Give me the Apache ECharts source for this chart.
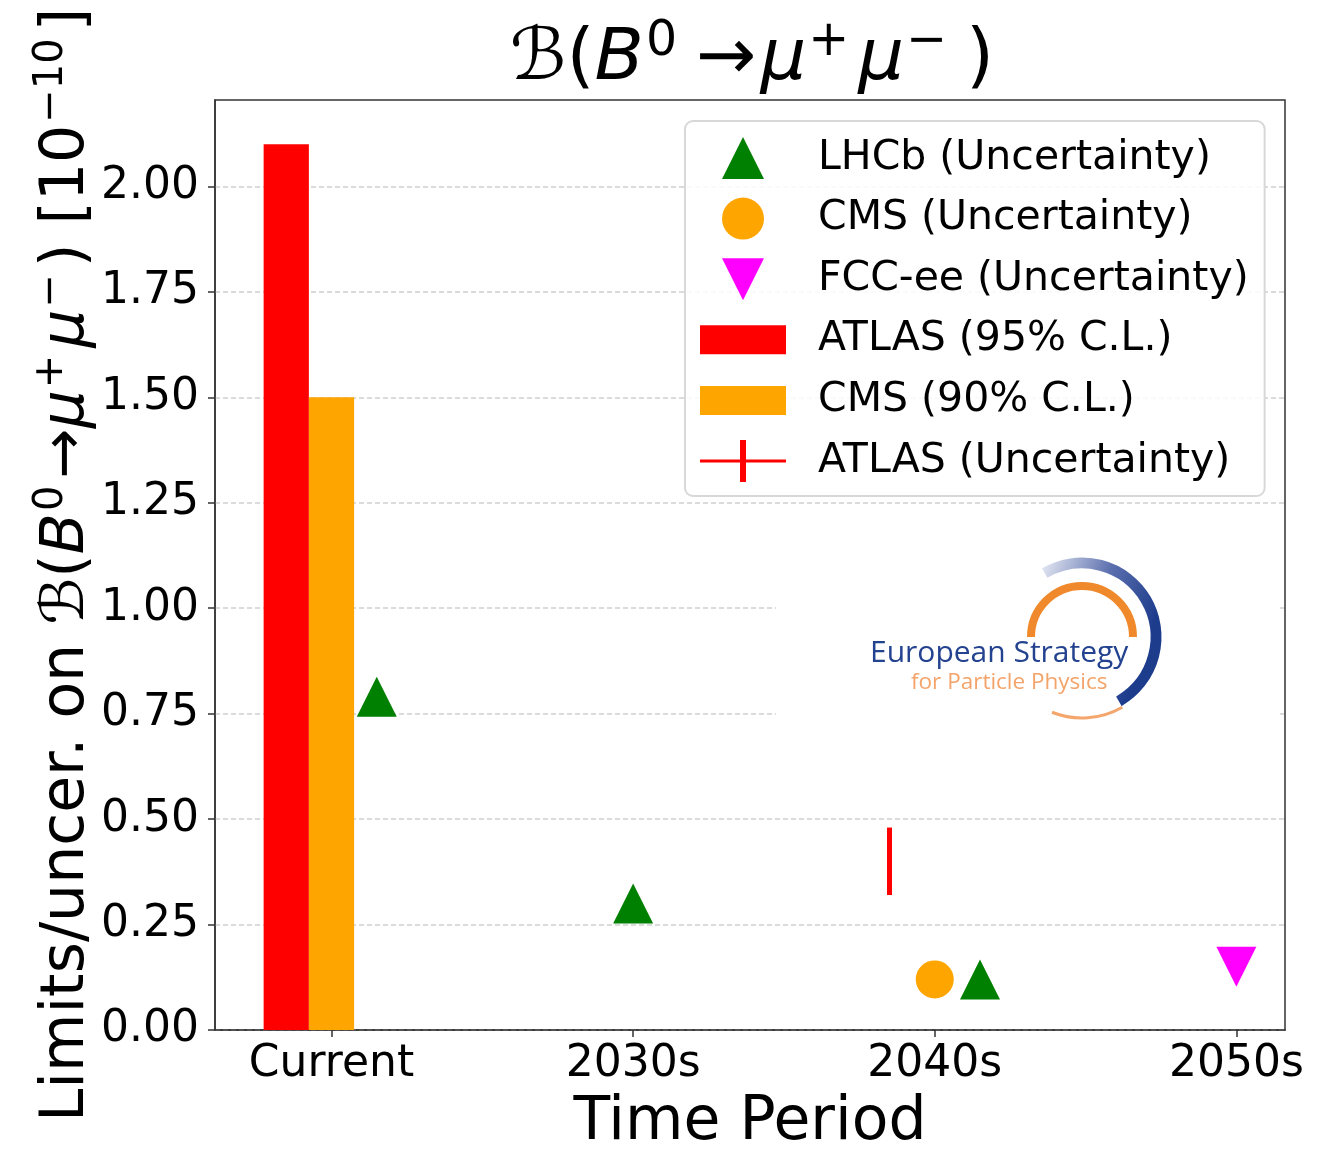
<!DOCTYPE html>
<html><head><meta charset="utf-8">
<script src="https://cdn.jsdelivr.net/npm/echarts@6/dist/echarts.min.js"></script>
<style>html,body{margin:0;padding:0;background:#fff}#c{width:1331px;height:1153px}</style>
</head><body><div id="c"></div>
<script>
// ---- data ----
const periods = ['Current', '2030s', '2040s', '2050s'];
const periodPos = [0, 1, 2, 3];
const yTicks = [0, 0.25, 0.5, 0.75, 1.0, 1.25, 1.5, 1.75, 2.0];

const atlasLimitX = [-0.15];
const atlasLimitY = [2.1];
const cmsLimitX = [0];
const cmsLimitY = [1.5];

const lhcbX = [0.15, 1, 2.15];
const lhcbY = [0.79, 0.30, 0.12];
const cmsUncX = [2];
const cmsUncY = [0.12];
const fccX = [3];
const fccY = [0.15];
const atlasUncX = [1.85];
const atlasUncY = [0.40];
const atlasUncErr = [0.08];

// ---- helpers ----
const BAR_W = 0.15;
const FONT = 'DejaVu Sans';
const zip = (a, b, c) => a.map((v, i) => c ? [v, b[i], c[i]] : [v, b[i]]);

function renderBar(params, api) {
  const x = api.value(0), v = api.value(1);
  const p0 = api.coord([x - BAR_W / 2, v]);
  const p1 = api.coord([x + BAR_W / 2, 0]);
  return { type: 'rect', shape: { x: p0[0], y: p0[1], width: p1[0] - p0[0], height: p1[1] - p0[1] },
           style: { fill: api.visual('color') } };
}
function renderErr(params, api) {
  const x = api.value(0), y = api.value(1), e = api.value(2);
  const a = api.coord([x, y - e]), b = api.coord([x, y + e]);
  return { type: 'line', shape: { x1: a[0], y1: a[1], x2: b[0], y2: b[1] },
           style: { stroke: api.visual('color'), lineWidth: 5 } };
}

const TRI_UP = 'path://M0,0L1,2L-1,2Z';
const TRI_DOWN = 'path://M-1,0L1,0L0,2Z';
const RECT_ICON = 'path://M0,0H83V28H0Z';
const ERR_ICON = 'path://M0,19.5H86V22.5H0Z M40,0H46V42H40Z';

function supRich(F, k) {
  const f = Math.round(F * k);
  const P = Math.round(F * 0.5);
  return {
    n: { fontFamily: FONT, fontSize: F, color: '#000' },
    a: { fontFamily: FONT, fontSize: F, color: '#000', padding: [0, 4, 0, 10] },
    i: { fontFamily: FONT, fontSize: F, fontStyle: 'italic', color: '#000' },
    s: { fontFamily: FONT, fontSize: f, color: '#000', padding: [0, Math.round(F * 0.12), P, 2] },
    e: { fontFamily: FONT, fontSize: F, color: '#000', padding: [0, 0, 0, 10] }
  };
}

const chart = echarts.init(document.getElementById('c'), null, { renderer: 'canvas' });
chart.setOption({
  backgroundColor: '#fff',
  animation: false,
  grid: { left: 215, right: 46, top: 100, bottom: 123, outerBoundsMode: 'none', containLabel: false,
          show: true, borderColor: '#333', borderWidth: 1.5, backgroundColor: 'transparent' },
  xAxis: {
    type: 'value', min: -0.38625, max: 3.16125,
    splitLine: { show: false },
    axisLine: { show: true, onZero: false, lineStyle: { color: '#333', width: 1.5 } },
    axisTick: { show: true, customValues: periodPos, length: 7, lineStyle: { color: '#333', width: 1.5 } },
    axisLabel: { customValues: periodPos, formatter: v => periods[Math.round(v)], fontSize: 44, color: '#000', fontFamily: FONT, margin: 13 },
    name: 'Time Period', nameLocation: 'middle', nameGap: 63, nameMoveOverlap: false,
    nameTextStyle: { fontSize: 60, color: '#000', fontFamily: FONT }
  },
  yAxis: {
    type: 'value', min: 0, max: 2.205, interval: 0.25,
    axisLine: { show: true, onZero: false, lineStyle: { color: '#333', width: 1.5 } },
    axisTick: { show: true, customValues: yTicks, length: 7, lineStyle: { color: '#333', width: 1.5 } },
    axisLabel: { customValues: yTicks, formatter: v => v.toFixed(2), fontSize: 44, color: '#000', fontFamily: FONT, margin: 16 },
    splitLine: { show: true, lineStyle: { type: [5, 3], color: '#d0d0d0', width: 1.5 } },
    name: '{n|Limits/uncer. on ℬ(}{i|B}{s|0}{n|→}{i|μ}{s|+}{i|μ}{s|−}{n|) [10}{s|−10}{n|]}',
    nameLocation: 'middle', nameGap: 113, nameRotate: 90, nameMoveOverlap: false,
    nameTextStyle: { fontSize: 60, color: '#000', fontFamily: FONT, rich: supRich(60, 0.66) }
  },
  legend: {
    orient: 'vertical', left: 685, top: 121,
    padding: [16, 16, 14, 15],
    itemWidth: 86, itemHeight: 42, itemGap: 18.6,
    backgroundColor: 'rgba(255,255,255,0.85)', borderColor: '#d8d8d8', borderWidth: 2, borderRadius: 8,
    textStyle: { fontSize: 41, color: '#000', fontFamily: FONT, lineHeight: 42, padding: [0, 0, 0, 27] },
    data: [
      { name: 'LHCb (Uncertainty)', icon: TRI_UP },
      { name: 'CMS (Uncertainty)', icon: 'circle' },
      { name: 'FCC-ee (Uncertainty)', icon: TRI_DOWN },
      { name: 'ATLAS (95% C.L.)', icon: RECT_ICON },
      { name: 'CMS (90% C.L.)', icon: RECT_ICON },
      { name: 'ATLAS (Uncertainty)', icon: ERR_ICON }
    ]
  },
  graphic: [
    { type: 'text', x: 752, y: 60, z: 5,
      style: { text: '{n|ℬ(}{i|B}{s|0}{a|→}{i|μ}{s|+}{i|μ}{s|−}{e|)}', rich: supRich(72, 0.68),
               fontFamily: FONT, fontSize: 72, align: 'center', verticalAlign: 'middle', fill: '#000' } },
    { type: 'rect', z: 1, shape: { x: 776, y: 545, width: 504, height: 188 }, style: { fill: '#fff' } },
    { type: 'arc', z: 3, shape: { cx: 1082, cy: 637, r: 51, startAngle: Math.PI, endAngle: 2 * Math.PI },
      style: { stroke: '#f0892b', lineWidth: 8, fill: 'none' } },
    { type: 'arc', z: 3, shape: { cx: 1082, cy: 637, r: 74, startAngle: -2.1, endAngle: 1.05 },
      style: { fill: 'none', lineWidth: 11,
               stroke: { type: 'linear', x: 0, y: 0, x2: 1, y2: 0.3, global: false,
                         colorStops: [{ offset: 0, color: '#eef0f7' }, { offset: 0.55, color: '#5b6fae' }, { offset: 1, color: '#1d3c8c' }] } } },
    { type: 'arc', z: 3, shape: { cx: 1082, cy: 637, r: 81, startAngle: 1.05, endAngle: 1.95 },
      style: { stroke: '#f4a66c', lineWidth: 3, fill: 'none' } },
    { type: 'text', z: 4, x: 870, y: 653,
      style: { text: 'European Strategy', fontFamily: 'Open Sans', fontSize: 30, fill: '#23428f', align: 'left', verticalAlign: 'middle' } },
    { type: 'text', z: 4, x: 911, y: 683,
      style: { text: 'for Particle Physics', fontFamily: 'Open Sans', fontSize: 22.5, fill: '#f4a46a', align: 'left', verticalAlign: 'middle' } }
  ],
  series: [
    { name: 'ATLAS (95% C.L.)', type: 'custom', renderItem: renderBar, data: zip(atlasLimitX, atlasLimitY),
      itemStyle: { color: '#ff0000' }, encode: { x: 0, y: 1 }, z: 2 },
    { name: 'CMS (90% C.L.)', type: 'custom', renderItem: renderBar, data: zip(cmsLimitX, cmsLimitY),
      itemStyle: { color: '#ffa500' }, encode: { x: 0, y: 1 }, z: 2 },
    { name: 'LHCb (Uncertainty)', type: 'scatter', symbol: TRI_UP, symbolSize: 40, data: zip(lhcbX, lhcbY),
      itemStyle: { color: '#008000', opacity: 1 }, z: 3 },
    { name: 'CMS (Uncertainty)', type: 'scatter', symbol: 'circle', symbolSize: 38, data: zip(cmsUncX, cmsUncY),
      itemStyle: { color: '#ffa500', opacity: 1 }, z: 3 },
    { name: 'FCC-ee (Uncertainty)', type: 'scatter', symbol: TRI_DOWN, symbolSize: 40, data: zip(fccX, fccY),
      itemStyle: { color: '#ff00ff', opacity: 1 }, z: 3 },
    { name: 'ATLAS (Uncertainty)', type: 'custom', renderItem: renderErr, data: zip(atlasUncX, atlasUncY, atlasUncErr),
      itemStyle: { color: '#ff0000' }, encode: { x: 0, y: 1 }, z: 3 }
  ]
});
</script></body></html>
